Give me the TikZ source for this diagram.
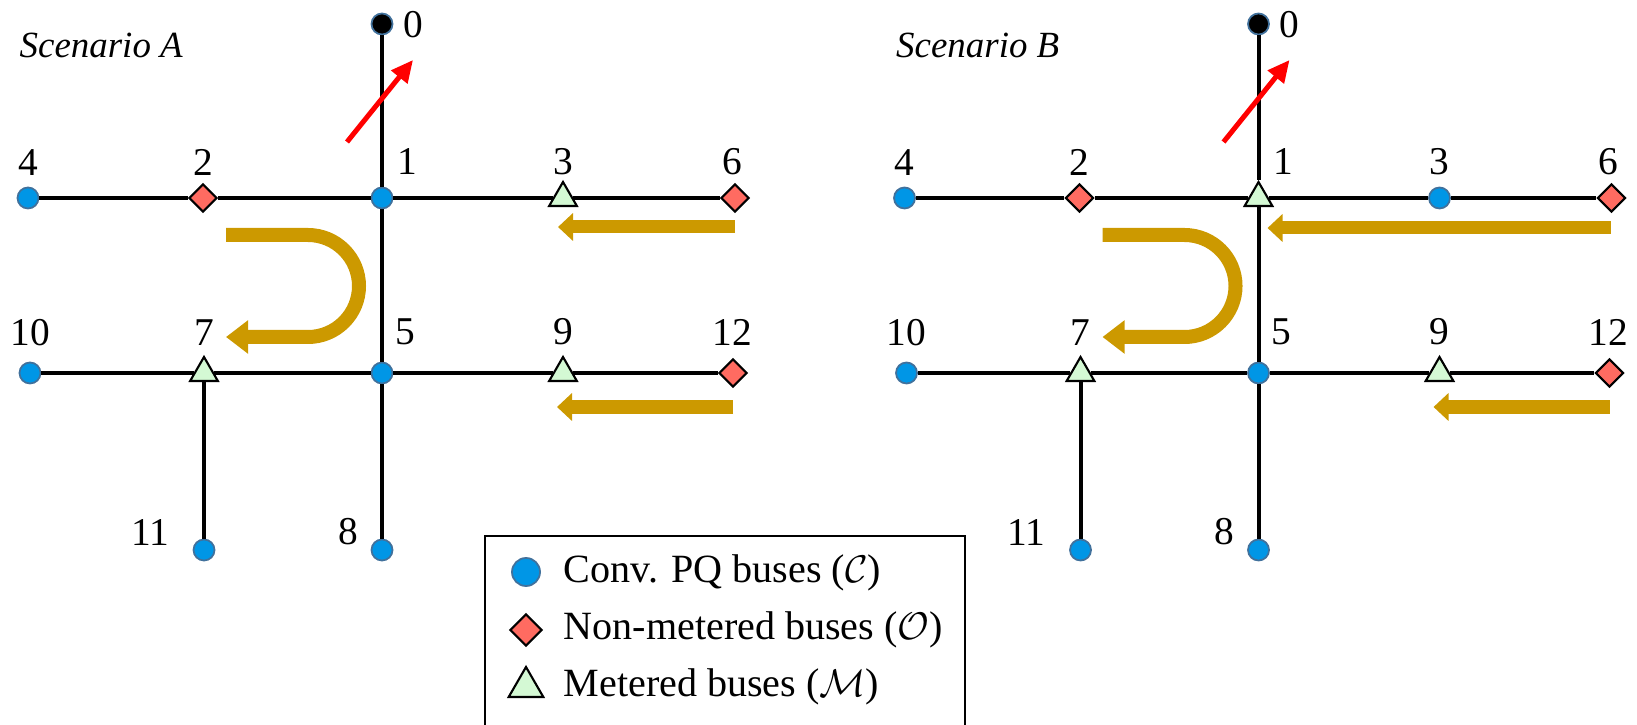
\documentclass[tikz,border=0pt]{standalone}
\usepackage{fontspec}
\setmainfont{Liberation Serif}
\usetikzlibrary{arrows.meta,shapes.geometric}

\definecolor{busblue}{HTML}{0096E6}
\definecolor{busedge}{HTML}{41719C}
\definecolor{nmred}{HTML}{FF6B61}
\definecolor{mgreen}{HTML}{D4F9D4}
\definecolor{flowgold}{HTML}{CC9900}
\definecolor{flowred}{HTML}{FF0000}

\tikzset{
  cbus/.style={circle,fill=busblue,draw=busedge,line width=0.5pt,minimum size=0.21cm,inner sep=0pt},
  slack/.style={circle,fill=black,draw=busedge,line width=0.5pt,minimum size=0.21cm,inner sep=0pt},
  obus/.style={diamond,fill=nmred,draw=black,line width=0.6pt,minimum size=0.28cm,inner sep=0pt},
  mbus/.style={regular polygon,regular polygon sides=3,fill=mgreen,draw=black,line width=0.6pt,minimum size=0.32cm,inner sep=0pt},
  lbl/.style={inner sep=0pt,font=\fontsize{11.2}{13}\selectfont},
  leg/.style={inner sep=0pt,anchor=base west,font=\fontsize{11.4}{13}\selectfont},
  feeder/.style={line width=0.04cm},
  flow/.style={draw=flowgold,line width=0.13cm,-{Triangle[length=0.15cm,width=0.27cm]}},
  uflow/.style={draw=flowgold,line width=0.14cm,rounded corners=0.51cm,-{Triangle[length=0.22cm,width=0.32cm]}},
  redflow/.style={draw=flowred,line width=0.05cm,-{Triangle[length=0.22cm,width=0.2cm]}}
}

\begin{document}
\begin{tikzpicture}[x=0.01cm,y=-0.01cm]
\useasboundingbox (0,0) rectangle (1637,725);

% Scenario A
\node[lbl,anchor=base west,font=\fontsize{10.5}{12}\selectfont\itshape] (sa) at (19,58) {Scenario A};
\node[slack] (a0) at (382,24) {};
\node[cbus] (a1) at (382,198) {};
\node[obus] (a2) at (203,198) {};
\node[mbus] (a3) at (563,198) {};
\node[cbus] (a4) at (28,198) {};
\node[obus] (a6) at (735,198) {};
\node[cbus] (a5) at (382,373) {};
\node[mbus] (a7) at (204,373) {};
\node[mbus] (a9) at (563,373) {};
\node[cbus] (a10) at (30,373) {};
\node[obus] (a12) at (733,373) {};
\node[cbus] (a11) at (204,550) {};
\node[cbus] (a8) at (382,550) {};

\node[lbl] (la0) at (413,25) {0};
\node[lbl] (la1) at (407,162) {1};
\node[lbl] (la2) at (203,162) {2};
\node[lbl] (la3) at (563,162) {3};
\node[lbl] (la4) at (28,163) {4};
\node[lbl] (la6) at (732,162) {6};
\node[lbl] (la5) at (405,332) {5};
\node[lbl] (la7) at (204,333) {7};
\node[lbl] (la9) at (563,332) {9};
\node[lbl] (la10) at (30,333) {10};
\node[lbl] (la12) at (732,332) {12};
\node[lbl] (la11) at (150,532) {11};
\node[lbl] (la8) at (348,532) {8};

\draw[feeder] (a4)--(a2)--(a1)--(a3)--(a6);
\draw[feeder] (a10)--(a7)--(a5)--(a9)--(a12);
\draw[feeder] (a0)--(a1)--(a5)--(a8);
\draw[feeder] (a7)--(a11);

\draw[redflow] (347,142) -- (413,60);
\draw[flow] (735,227) -- (558,227);
\draw[flow] (733,407) -- (557,407);
\draw[uflow] (226,235) -- (359,235) -- (359,337) -- (226,337);

% Scenario B
\begin{scope}[xshift=8.76cm]
\node[lbl,anchor=base west,font=\fontsize{10.5}{12}\selectfont\itshape] (sb) at (19,58) {Scenario B};
\node[slack] (b0) at (382,24) {};
\node[mbus] (b1) at (382,198) {};
\node[obus] (b2) at (203,198) {};
\node[cbus] (b3) at (563,198) {};
\node[cbus] (b4) at (28,198) {};
\node[obus] (b6) at (735,198) {};
\node[cbus] (b5) at (382,373) {};
\node[mbus] (b7) at (204,373) {};
\node[mbus] (b9) at (563,373) {};
\node[cbus] (b10) at (30,373) {};
\node[obus] (b12) at (733,373) {};
\node[cbus] (b11) at (204,550) {};
\node[cbus] (b8) at (382,550) {};

\node[lbl] (lb0) at (413,25) {0};
\node[lbl] (lb1) at (407,162) {1};
\node[lbl] (lb2) at (203,162) {2};
\node[lbl] (lb3) at (563,162) {3};
\node[lbl] (lb4) at (28,163) {4};
\node[lbl] (lb6) at (732,162) {6};
\node[lbl] (lb5) at (405,332) {5};
\node[lbl] (lb7) at (204,333) {7};
\node[lbl] (lb9) at (563,332) {9};
\node[lbl] (lb10) at (30,333) {10};
\node[lbl] (lb12) at (732,332) {12};
\node[lbl] (lb11) at (150,532) {11};
\node[lbl] (lb8) at (348,532) {8};

\draw[feeder] (b4)--(b2)--(b1)--(b3)--(b6);
\draw[feeder] (b10)--(b7)--(b5)--(b9)--(b12);
\draw[feeder] (b0)--(b1)--(b5)--(b8);
\draw[feeder] (b7)--(b11);

\draw[redflow] (347,142) -- (413,60);
\draw[flow] (734,228) -- (391,228);
\draw[flow] (733,407) -- (557,407);
\draw[uflow] (226,235) -- (359,235) -- (359,337) -- (226,337);
\end{scope}

% legend
\draw[line width=0.02cm] (485,730) -- (485,536) -- (965,536) -- (965,730);
\node[cbus,minimum size=0.28cm] (kc) at (526,572) {};
\node[obus,minimum size=0.32cm] (ko) at (526,630) {};
\node[mbus,minimum size=0.40cm] (km) at (526,687) {};
\node[leg] (tc) at (563,582) {Conv. PQ buses ($\mathcal{C}$)};
\node[leg] (to) at (563,639) {Non-metered buses ($\mathcal{O}$)};
\node[leg] (tm) at (563,696) {Metered buses ($\mathcal{M}$)};
\end{tikzpicture}
\end{document}
